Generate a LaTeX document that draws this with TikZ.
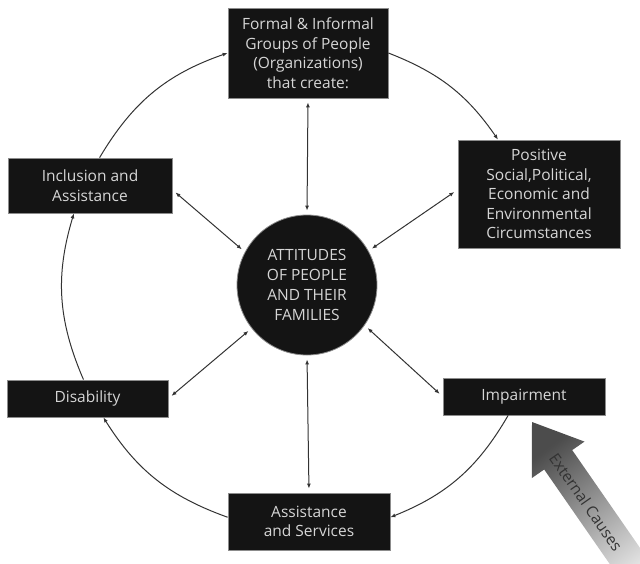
\documentclass[tikz,border=0pt]{standalone}
\usepackage{fontspec}
\setmainfont{Open Sans}
\usetikzlibrary{arrows.meta}
\definecolor{boxfill}{HTML}{141414}
\definecolor{boxtext}{HTML}{D6D6D6}
\definecolor{linecol}{HTML}{333333}
\begin{document}
\begin{tikzpicture}[x=1pt,y=-1pt,
  box/.style={draw=black!45, line width=0.8pt, fill=boxfill, text=boxtext, align=center,
    font=\fontsize{15.5}{19.5}\selectfont, inner sep=0pt, minimum width=162pt},
  conn/.style={draw=linecol, line width=1pt, -{Latex[length=5pt,width=4pt]}},
  radial/.style={draw=linecol, line width=1pt,
    {Latex[length=5pt,width=4pt]}-{Latex[length=5pt,width=4pt]}, shorten <=4pt, shorten >=4pt}]
\useasboundingbox (0,0) rectangle (640,563);
% boxes
\node[box, minimum width=160pt, minimum height=90pt] (top) at (308,53)
  {Formal \& Informal\\Groups of People\\(Organizations)\\that create:};
\node[box, minimum height=108pt] (pos) at (539,194)
  {Positive\\Social,Political,\\Economic and\\Environmental\\Circumstances};
\node[box, minimum width=164pt, minimum height=55pt] (incl) at (90,185.5)
  {Inclusion and\\Assistance};
\node[box, minimum width=161pt, minimum height=37pt] (dis) at (87.5,398.5) {Disability};
\node[box, minimum height=37pt] (imp) at (524,396.5) {Impairment};
\node[box, minimum height=57pt] (as) at (309,521.5) {Assistance\\and Services};
\node[circle, draw=black!45, line width=0.8pt, fill=boxfill, text=boxtext, align=center,
  font=\fontsize{15.5}{20}\selectfont, inner sep=0pt, minimum size=140pt] (att) at (307,285)
  {ATTITUDES\\OF PEOPLE\\AND THEIR\\FAMILIES};
% outer cycle
\draw[conn] (top.east) to[bend left=17] (pos.127);
\draw[conn] (imp.230) to[bend left=19] (as.3);
\draw[conn] (as.177) to[bend left=19] (dis.310);
\draw[conn] (dis.102) to[bend left=20] (incl.240);
\draw[conn] (incl.71) to[bend left=20] (top.west);
% radial links
\draw[radial] (top.south) -- (att.north);
\draw[radial] (pos.177) -- (att.29);
\draw[radial] (incl.-3) -- (att.152);
\draw[radial] (dis.east) -- (att.218);
\draw[radial] (imp.west) -- (att.-35);
\draw[radial] (as.north) -- (att.south);
% external causes arrow
\begin{scope}
\clip (0,0) rectangle (640,563);
\shade[top color=black!70, bottom color=black!8, shading angle=37]
  (532,422) -- (584.5,441.6) -- (572.2,450.1) -- (660,576.7) -- (632,596.1)
  -- (544.2,469.5) -- (531.9,478.0) -- cycle;
\end{scope}
\node[text=black!80, font=\fontsize{15.5}{17}\selectfont, rotate=-55] (ext) at (586,502) {External Causes};
\end{tikzpicture}
\end{document}
